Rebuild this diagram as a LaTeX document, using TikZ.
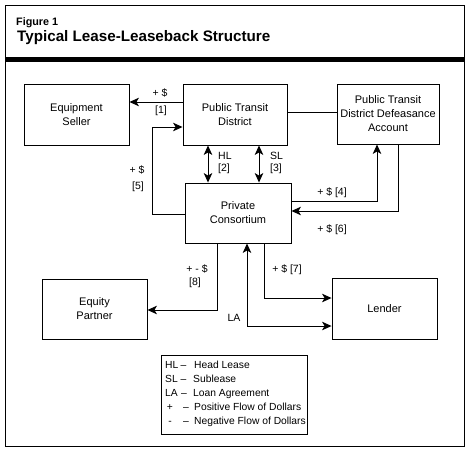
\documentclass[tikz,border=0pt]{standalone}
\usepackage{fontspec}
\setmainfont{Liberation Sans}
\usetikzlibrary{arrows.meta}
\begin{document}
\begin{tikzpicture}[x=1pt,y=-1pt,
  box/.style={draw, line width=0.9pt, inner sep=0pt, align=center,
    font=\fontsize{11}{14}\selectfont},
  tip/.tip={Stealth[length=9.5pt,width=8.5pt,inset=2.5pt]},
  conn/.style={line width=0.9pt},
  arr/.style={conn, -tip},
  darr/.style={conn, tip-tip},
  lbl/.style={font=\fontsize{10.5}{12}\selectfont, inner sep=0pt},
  lgd/.style={font=\fontsize{10.3}{12}\selectfont, inner sep=0pt, anchor=base west},
  lgdc/.style={font=\fontsize{10.3}{12}\selectfont, inner sep=0pt, anchor=base}
]
\useasboundingbox (0,0) rectangle (470,455);
\draw[line width=0.9pt] (5,5) rectangle (464,446);
\draw[line width=4.5pt] (5,59.5) -- (464,59.5);
\node[anchor=base west, inner sep=0pt, font=\bfseries\fontsize{10.8}{12}\selectfont] (fig) at (16,25.3) {Figure 1};
\node[anchor=base west, inner sep=0pt, font=\bfseries\fontsize{15.2}{17}\selectfont] (title) at (17,41.7) {Typical Lease-Leaseback Structure};

% boxes
\node[box, minimum width=105, minimum height=61] (ES) at (76.5,114.5) {Equipment\\Seller};
\node[box, minimum width=104, minimum height=61] (PTD) at (235,114.5) {Public Transit\\District};
\node[box, minimum width=102, minimum height=60] (PTDA) at (388,114) {Public Transit\\District Defeasance\\Account};
\node[box, minimum width=106, minimum height=60] (PC) at (238,213) {Private\\Consortium};
\node[box, minimum width=105, minimum height=60] (EP) at (94.5,309) {Equity\\Partner};
\node[box, minimum width=105, minimum height=61] (LD) at (384.5,308.5) {Lender};

% connectors
\draw[arr] (PTD.west |- 0,102) -- (ES.east |- 0,102);
\node[lbl] (l1a) at (160,93) {+ \$};
\node[lbl] (l1b) at (161,111) {[1]};

\coordinate (c5) at (152,127);
\draw[arr] (PC.west |- 0,214) -| (c5) -- (PTD.west |- c5);
\node[lbl] (l5a) at (137,170) {+ \$};
\node[lbl] (l5b) at (138,187) {[5]};

\draw[darr] (PTD.south -| 208,0) -- (PC.north -| 208,0);
\node[lbl, anchor=west] (l2a) at (218,156) {HL};
\node[lbl, anchor=west] (l2b) at (218,169) {[2]};

\draw[darr] (PTD.south -| 259,0) -- (PC.north -| 259,0);
\node[lbl, anchor=west] (l3a) at (270,156) {SL};
\node[lbl, anchor=west] (l3b) at (270,169) {[3]};

\draw[conn] (PTD.east |- 0,112) -- (PTDA.west |- 0,112);

\draw[arr] (PC.east |- 0,201) -| (PTDA.south -| 377,0);
\node[lbl] (l4) at (332,193) {+ \$ [4]};

\draw[arr] (PTDA.south -| 398,0) |- (PC.east |- 0,211);
\node[lbl] (l6) at (332,230) {+ \$ [6]};

\draw[arr] (PC.south -| 264,0) |- (LD.west |- 0,298);
\node[lbl] (l7) at (287,270) {+ \$ [7]};

\draw[darr] (LD.west |- 0,326) -| (PC.south -| 247,0);
\node[lbl] (lla) at (234,318) {LA};

\draw[arr] (PC.south -| 217,0) |- (EP.east |- 0,310);
\node[lbl] (l8a) at (197,269) {+ - \$};
\node[lbl] (l8b) at (195,283) {[8]};

% legend
\node[draw, line width=0.9pt, minimum width=146, minimum height=79, inner sep=0pt] (LG) at (234,394.5) {};
\node[lgd] (g1a) at (165,368.6) {HL};
\node[lgdc] (g1b) at (183.5,368.6) {–};
\node[lgd] (g1c) at (194,368.6) {Head Lease};
\node[lgd] (g2a) at (165,382.6) {SL};
\node[lgdc] (g2b) at (183.5,382.6) {–};
\node[lgd] (g2c) at (193,382.6) {Sublease};
\node[lgd] (g3a) at (165,396.6) {LA};
\node[lgdc] (g3b) at (184,396.6) {–};
\node[lgd] (g3c) at (193,396.6) {Loan Agreement};
\node[lgdc] (g4a) at (170,410.6) {+};
\node[lgdc] (g4b) at (186,410.6) {–};
\node[lgd] (g4c) at (194,410.6) {Positive Flow of Dollars};
\node[lgdc] (g5a) at (170,424.6) {-};
\node[lgdc] (g5b) at (186,424.6) {–};
\node[lgd] (g5c) at (194,424.6) {Negative Flow of Dollars};
\end{tikzpicture}
\end{document}
